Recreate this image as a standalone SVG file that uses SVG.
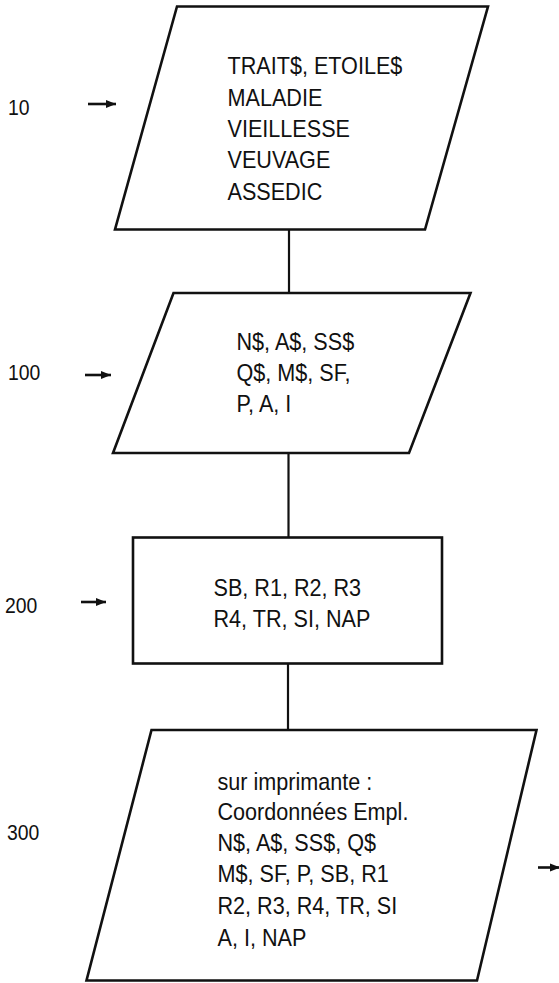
<svg xmlns="http://www.w3.org/2000/svg" width="559" height="983" viewBox="0 0 559 983">
  <style>
    .shape { fill: #ffffff; stroke: #111111; stroke-width: 2.6; stroke-linejoin: miter; }
    .conn { stroke: #111111; stroke-width: 2.2; fill: none; }
    .arr { stroke: #111111; stroke-width: 2.6; fill: none; }
    .txt { font-family: "Liberation Sans", Arial, sans-serif; font-size: 24px; fill: #111111; }
    .lbl { font-family: "Liberation Sans", Arial, sans-serif; font-size: 22px; fill: #111111; }
  </style>
  <defs>
    <marker id="head" markerUnits="userSpaceOnUse" markerWidth="11" markerHeight="9" refX="10" refY="4.5" orient="auto">
      <path d="M0,0.5 L10,4.5 L0,8.5 z" fill="#111111"/>
    </marker>
  </defs>
  <rect x="0" y="0" width="559" height="983" fill="#ffffff"/>

  <g id="connectors">
    <line class="conn" x1="289" y1="229.5" x2="289" y2="293"/>
    <line class="conn" x1="288.5" y1="453" x2="288.5" y2="537.5"/>
    <line class="conn" x1="288" y1="663.5" x2="288" y2="730"/>
  </g>

  <g id="node10">
    <polygon class="shape" points="177,6.5 488,6.5 425,229.5 115,229.5"/>
    <text class="txt" transform="translate(227.5,0) scale(0.9,1)">
      <tspan x="0" y="74">TRAIT$, ETOILE$</tspan>
      <tspan x="0" y="106">MALADIE</tspan>
      <tspan x="0" y="137.5">VIEILLESSE</tspan>
      <tspan x="0" y="168.5">VEUVAGE</tspan>
      <tspan x="0" y="200">ASSEDIC</tspan>
    </text>
  </g>
  <g id="label10">
    <text class="lbl" transform="translate(8,0) scale(0.88,1)" x="0" y="115">10</text>
    <line class="arr" x1="88" y1="104" x2="116" y2="104" marker-end="url(#head)"/>
  </g>

  <g id="node100">
    <polygon class="shape" points="173.5,293 470.5,293 409,453 113,453"/>
    <text class="txt" transform="translate(236.5,0) scale(0.9,1)">
      <tspan x="0" y="350">N$, A$, SS$</tspan>
      <tspan x="0" y="381.5">Q$, M$, SF,</tspan>
      <tspan x="0" y="412.5">P, A, I</tspan>
    </text>
  </g>
  <g id="label100">
    <text class="lbl" transform="translate(8,0) scale(0.88,1)" x="0" y="380">100</text>
    <line class="arr" x1="85" y1="375" x2="111" y2="375" marker-end="url(#head)"/>
  </g>

  <g id="node200">
    <rect class="shape" x="133" y="537.5" width="309" height="126"/>
    <text class="txt" transform="translate(213.5,0) scale(0.9,1)">
      <tspan x="0" y="596">SB, R1, R2, R3</tspan>
      <tspan x="0" y="627.5">R4, TR, SI, NAP</tspan>
    </text>
  </g>
  <g id="label200">
    <text class="lbl" transform="translate(5,0) scale(0.88,1)" x="0" y="613">200</text>
    <line class="arr" x1="81" y1="602" x2="106" y2="602" marker-end="url(#head)"/>
  </g>

  <g id="node300">
    <polygon class="shape" points="151.5,730 536.5,730 477,980.5 86.5,980.5"/>
    <text class="txt" transform="translate(217.5,0) scale(0.9,1)">
      <tspan x="0" y="790">sur imprimante :</tspan>
      <tspan x="0" y="820">Coordonnées Empl.</tspan>
      <tspan x="0" y="851">N$, A$, SS$, Q$</tspan>
      <tspan x="0" y="882.5">M$, SF, P, SB, R1</tspan>
      <tspan x="0" y="914">R2, R3, R4, TR, SI</tspan>
      <tspan x="0" y="946">A, I, NAP</tspan>
    </text>
  </g>
  <g id="label300">
    <text class="lbl" transform="translate(7,0) scale(0.88,1)" x="0" y="840">300</text>
    <line class="arr" x1="538" y1="867.5" x2="560" y2="867.5" marker-end="url(#head)"/>
  </g>
</svg>
